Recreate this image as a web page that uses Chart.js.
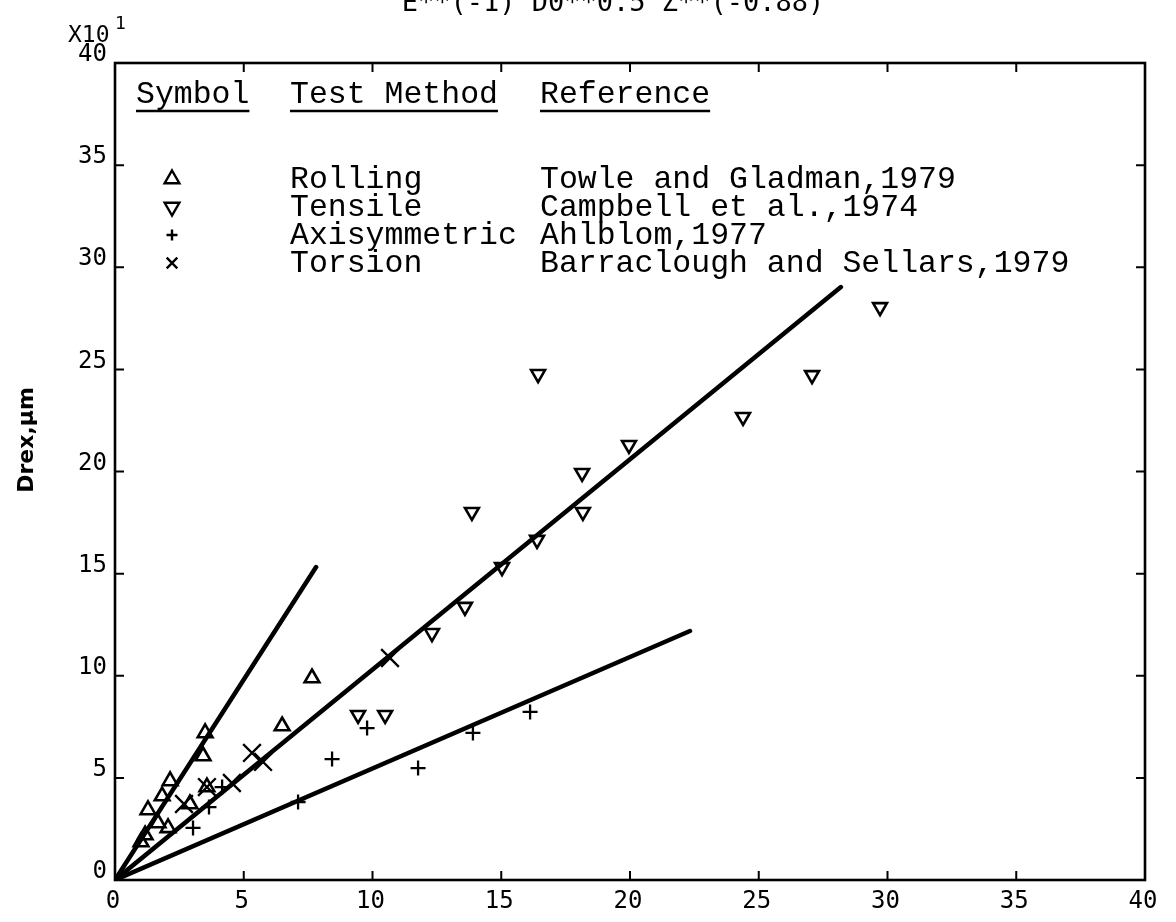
<!DOCTYPE html>
<html>
<head>
<meta charset="utf-8">
<script src="https://cdn.jsdelivr.net/npm/chart.js@4.4.1/dist/chart.umd.min.js"></script>
<style>
  html, body { margin: 0; padding: 0; background: #ffffff; }
  #wrap { width: 1176px; height: 922px; }
</style>
</head>
<body>
<div id="wrap"><canvas id="c" width="1176" height="922"></canvas></div>
<script>
// Test methods and their sources, one entry per series
const methods = ['Rolling', 'Tensile', 'Axisymmetric', 'Torsion'];
const references = ['Towle and Gladman,1979', 'Campbell et al.,1974', 'Ahlblom,1977', 'Barraclough and Sellars,1979'];

// Measured points (x: E**(-1) D0**0.5 Z**(-0.88), y: Drex in units of 10 um)
const rollingX = [1.01, 1.17, 1.28, 1.67, 1.83, 2.06, 2.14, 2.91, 3.42, 3.50, 3.57, 6.49, 7.65];
const rollingY = [1.86, 2.20, 3.43, 2.79, 4.11, 2.55, 4.85, 3.72, 6.07, 7.20, 4.55, 7.54, 9.89];

const tensileX = [9.44, 10.49, 12.31, 13.59, 13.86, 15.03, 16.39, 16.43, 18.17, 18.14, 19.96, 24.39, 27.07, 29.71];
const tensileY = [8.08, 8.08, 12.09, 13.37, 18.02, 15.32, 16.65, 24.77, 18.02, 19.93, 21.30, 22.67, 24.72, 28.05];

const axisymX = [3.03, 3.65, 4.16, 7.11, 8.43, 9.79, 11.77, 13.90, 16.12];
const axisymY = [2.55, 3.57, 4.55, 3.82, 5.92, 7.44, 5.48, 7.20, 8.23];

const torsionX = [2.68, 3.57, 4.54, 5.32, 5.75, 10.68];
const torsionY = [3.72, 4.55, 4.75, 6.22, 5.78, 10.87];

// Straight-line fits through the origin (start and end of each drawn segment)
const fitSteepX = [0, 7.81];   const fitSteepY = [0, 15.32];
const fitMiddleX = [0, 28.19]; const fitMiddleY = [0, 29.03];
const fitLowX = [0, 22.33];    const fitLowY = [0, 12.19];

// Axis ticks
const xTickValues = [0, 5, 10, 15, 20, 25, 30, 35, 40];
const yTickValues = [0, 5, 10, 15, 20, 25, 30, 35, 40];

const titleText = 'E**(-1) D0**0.5 Z**(-0.88)';
const yAxisTitle = 'Drex,\u00b5m';

const pts = (xs, ys) => xs.map((x, i) => ({ x: x, y: ys[i] }));

const INK = '#000000';
const markerStyles = [
  { pointStyle: 'triangle', rotation: 0,   radius: 8.5, borderWidth: 2.6 },
  { pointStyle: 'triangle', rotation: 180, radius: 8,   borderWidth: 2.6 },
  { pointStyle: 'cross',    rotation: 0,   radius: 7.5, borderWidth: 2.3 },
  { pointStyle: 'crossRot', rotation: 0,   radius: 12.5, borderWidth: 2.3 }
];
const seriesData = [pts(rollingX, rollingY), pts(tensileX, tensileY), pts(axisymX, axisymY), pts(torsionX, torsionY)];

const fitLine = (xs, ys) => ({
  type: 'line',
  data: pts(xs, ys),
  borderColor: INK,
  borderWidth: 4.5,
  pointRadius: 0,
  showLine: true,
  fill: false,
  tension: 0,
  borderCapStyle: 'round'
});

const datasets = [
  fitLine(fitSteepX, fitSteepY),
  fitLine(fitMiddleX, fitMiddleY),
  fitLine(fitLowX, fitLowY)
];
methods.forEach((m, i) => {
  const s = markerStyles[i];
  datasets.push({
    type: 'scatter',
    label: m,
    data: seriesData[i],
    showLine: false,
    pointStyle: s.pointStyle,
    rotation: s.rotation,
    pointRadius: s.radius,
    pointBorderWidth: s.borderWidth,
    pointBackgroundColor: 'rgba(0,0,0,0)',
    pointBorderColor: INK
  });
});

// Frame with inward ticks, the cut-off heading, axis captions and the symbol table
const decorations = {
  id: 'decorations',
  afterDraw(chart) {
    const ctx = chart.ctx;
    const a = chart.chartArea;
    const xs = chart.scales.x, ys = chart.scales.y;
    ctx.save();
    ctx.strokeStyle = INK;
    ctx.fillStyle = INK;

    // frame
    ctx.lineWidth = 2.6;
    ctx.strokeRect(a.left, a.top, a.right - a.left, a.bottom - a.top);

    // inward tick marks
    const tl = 9;
    ctx.lineWidth = 2;
    ctx.beginPath();
    xTickValues.forEach(v => {
      const px = xs.getPixelForValue(v);
      ctx.moveTo(px, a.bottom); ctx.lineTo(px, a.bottom - tl);
      ctx.moveTo(px, a.top);    ctx.lineTo(px, a.top + tl);
    });
    yTickValues.forEach(v => {
      const py = ys.getPixelForValue(v);
      ctx.moveTo(a.left, py);  ctx.lineTo(a.left + tl, py);
      ctx.moveTo(a.right, py); ctx.lineTo(a.right - tl, py);
    });
    ctx.stroke();

    // heading, partly above the page edge
    ctx.font = '27px "DejaVu Sans Mono"';
    ctx.textAlign = 'center';
    ctx.textBaseline = 'alphabetic';
    ctx.fillText(titleText, 613, 11);

    // y axis caption
    ctx.save();
    ctx.translate(27, 440);
    ctx.rotate(-Math.PI / 2);
    ctx.font = 'bold 22px "DejaVu Sans"';
    ctx.textAlign = 'center';
    ctx.textBaseline = 'middle';
    ctx.fillText(yAxisTitle, 0, 0);
    ctx.restore();

    // multiplier for the y axis
    ctx.textAlign = 'left';
    ctx.font = '23px "DejaVu Sans Mono"';
    ctx.fillText('X10', 68, 42);
    ctx.font = '18px "DejaVu Sans Mono"';
    ctx.fillText('1', 115, 29);

    // symbol table
    const colSym = 136, colMethod = 290, colRef = 540;
    ctx.font = '31.5px "Liberation Mono"';
    ctx.textBaseline = 'alphabetic';
    const headY = 103;
    [['Symbol', colSym], ['Test Method', colMethod], ['Reference', colRef]].forEach(([t, x]) => {
      ctx.fillText(t, x, headY);
      const w = ctx.measureText(t).width;
      ctx.lineWidth = 2.4;
      ctx.beginPath();
      ctx.moveTo(x, headY + 8);
      ctx.lineTo(x + w, headY + 8);
      ctx.stroke();
    });
    const rowY = [188, 216, 244, 272];
    const legendRadius = [8.5, 8.5, 5.5, 7.5];
    methods.forEach((m, i) => {
      const s = markerStyles[i];
      ctx.fillStyle = 'rgba(0,0,0,0)';
      ctx.strokeStyle = INK;
      Chart.helpers.drawPoint(ctx, {
        pointStyle: s.pointStyle,
        rotation: s.rotation,
        radius: legendRadius[i],
        borderWidth: 2.2
      }, 172, rowY[i] - 9);
      ctx.fillStyle = INK;
      ctx.fillText(m, colMethod, rowY[i]);
      ctx.fillText(references[i], colRef, rowY[i]);
    });
    ctx.restore();
  }
};

new Chart(document.getElementById('c'), {
  data: { datasets: datasets },
  options: {
    responsive: false,
    animation: false,
    devicePixelRatio: 1,
    layout: { padding: { top: 63, right: 31, left: 0, bottom: 0 } },
    plugins: {
      legend: { display: false },
      tooltip: { enabled: false },
      title: { display: false }
    },
    scales: {
      x: {
        type: 'linear',
        min: 0, max: 40,
        afterFit(s) { s.height = 42; },
        afterBuildTicks(s) { s.ticks = xTickValues.map(v => ({ value: v })); },
        grid: { display: false, drawTicks: false },
        border: { display: false },
        ticks: {
          color: INK,
          padding: 7,
          labelOffset: -2,
          font: { family: '"DejaVu Sans Mono"', size: 24 },
          maxRotation: 0,
          callback: v => String(v)
        }
      },
      y: {
        type: 'linear',
        min: 0, max: 40,
        afterFit(s) { s.width = 115; },
        afterBuildTicks(s) { s.ticks = yTickValues.map(v => ({ value: v })); },
        grid: { display: false, drawTicks: false },
        border: { display: false },
        ticks: {
          color: INK,
          padding: 8,
          labelOffset: -8,
          font: { family: '"DejaVu Sans Mono"', size: 24 },
          callback: v => String(v)
        },
        title: { display: false }
      }
    }
  },
  plugins: [decorations]
});
</script>
</body>
</html>
